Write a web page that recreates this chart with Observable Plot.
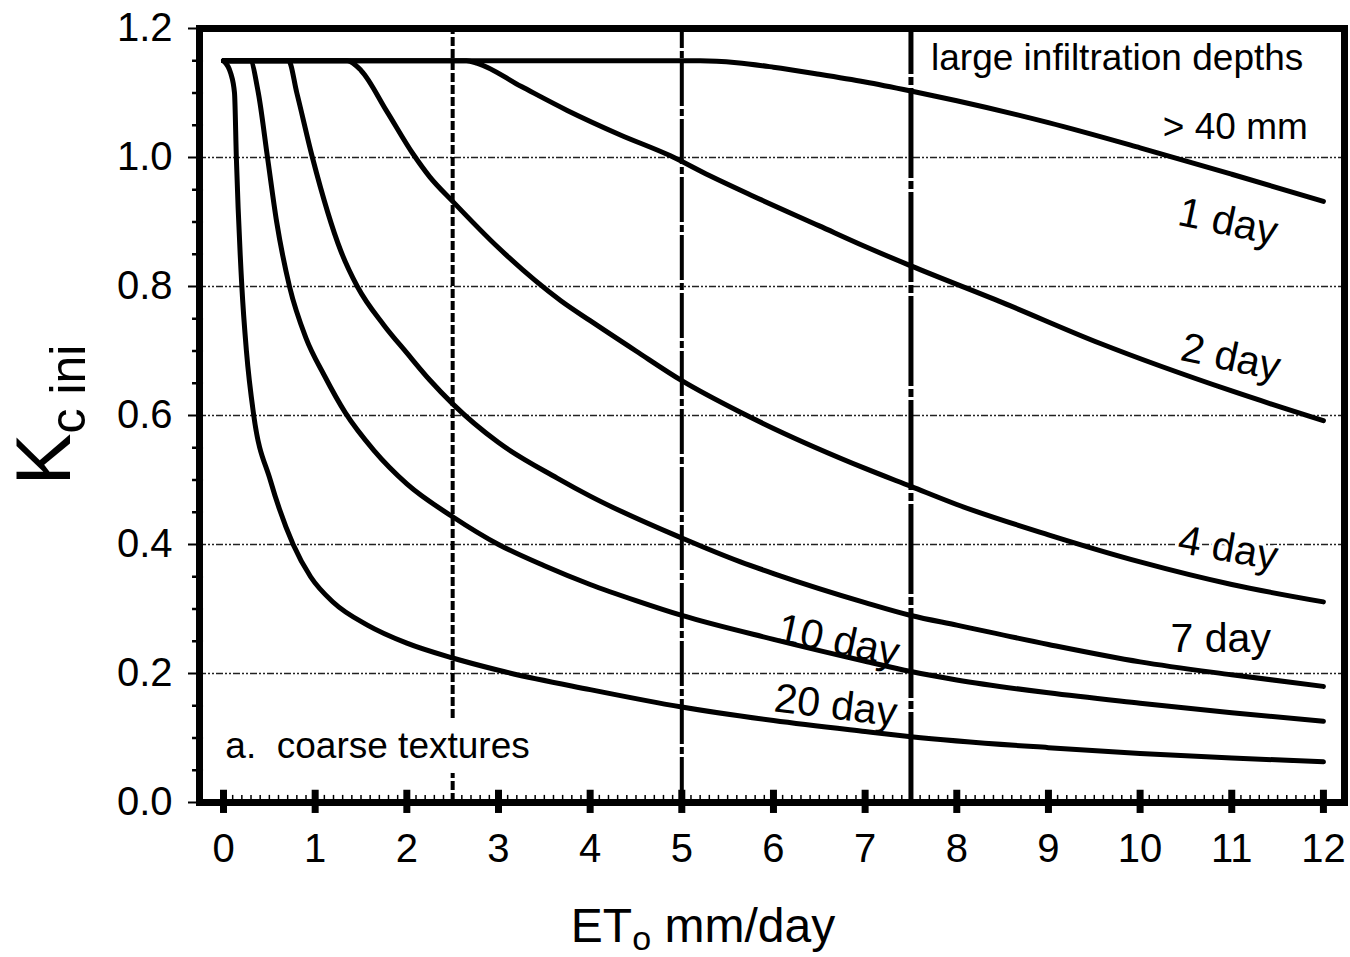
<!DOCTYPE html>
<html>
<head>
<meta charset="utf-8">
<script src="https://cdn.jsdelivr.net/npm/d3@7"></script>
<script src="https://cdn.jsdelivr.net/npm/@observablehq/plot@0.6"></script>
<style>
  html, body { margin: 0; padding: 0; background: #fff; }
  #chart svg { display: block; }
</style>
</head>
<body>
<div id="chart"></div>
<script>
// ---- Data ----
const xTicks = [0, 1, 2, 3, 4, 5, 6, 7, 8, 9, 10, 11, 12];
const yTicks = [0, 0.2, 0.4, 0.6, 0.8, 1.0, 1.2];
const gridY = [0.2, 0.4, 0.6, 0.8, 1.0];

const et1 = [0, 5.2, 5.6, 6.0, 6.5, 7.0, 7.5, 8.0, 9.0, 10.0, 11.0, 12.0];
const kc1 = [1.15, 1.15, 1.147, 1.14, 1.129, 1.117, 1.103, 1.088, 1.054, 1.015, 0.974, 0.932];

const et2 = [0, 2.65, 2.77, 3.25, 3.75, 4.33, 4.87, 5.3, 5.78, 6.5, 7.0, 7.5, 8.5, 9.56, 11.0, 12.0];
const kc2 = [1.15, 1.15, 1.146, 1.11, 1.073, 1.035, 1.003, 0.972, 0.94, 0.894, 0.862, 0.832, 0.775, 0.712, 0.638, 0.592];

const et4 = [0, 1.35, 1.5, 1.78, 2.07, 2.25, 2.5, 3.0, 3.68, 4.0, 4.5, 5.0, 5.64, 6.0, 7.0, 7.5, 8.0, 9.0, 10.0, 11.0, 12.0];
const kc4 = [1.15, 1.15, 1.135, 1.072, 1.005, 0.97, 0.932, 0.86, 0.778, 0.747, 0.70, 0.654, 0.605, 0.58, 0.518, 0.49, 0.462, 0.415, 0.373, 0.338, 0.311];

const et7 = [0, 0.71, 0.8, 0.97, 1.28, 1.46, 1.75, 2.0, 2.25, 2.5, 3.0, 3.64, 4.0, 5.0, 5.64, 6.0, 7.0, 7.5, 8.0, 9.0, 10.0, 11.0, 12.0];
const kc7 = [1.15, 1.15, 1.10, 1.0, 0.855, 0.8, 0.74, 0.697, 0.655, 0.618, 0.558, 0.503, 0.475, 0.41, 0.373, 0.355, 0.31, 0.29, 0.275, 0.245, 0.218, 0.198, 0.18];

const et10 = [0, 0.29, 0.38, 0.48, 0.58, 0.72, 0.9, 1.1, 1.33, 1.64, 2.0, 2.5, 3.0, 3.5, 4.0, 4.5, 5.0, 6.0, 7.0, 7.5, 8.0, 9.0, 10.0, 11.0, 12.0];
const kc10 = [1.15, 1.15, 1.10, 1.0, 0.9, 0.8, 0.72, 0.662, 0.604, 0.546, 0.494, 0.443, 0.40, 0.367, 0.338, 0.313, 0.29, 0.253, 0.219, 0.203, 0.19, 0.17, 0.154, 0.139, 0.126];

const et20 = [0, 0.08, 0.12, 0.14, 0.2, 0.25, 0.33, 0.51, 0.76, 0.95, 1.2, 1.57, 2.0, 2.5, 3.0, 4.0, 5.0, 6.0, 7.0, 7.5, 9.0, 10.0, 11.0, 12.0];
const kc20 = [1.15, 1.13, 1.10, 1.0, 0.8, 0.7, 0.6, 0.5, 0.4, 0.35, 0.31, 0.275, 0.247, 0.224, 0.205, 0.175, 0.148, 0.127, 0.11, 0.102, 0.085, 0.076, 0.069, 0.063];

const seriesNames = ["1 day", "2 day", "4 day", "7 day", "10 day", "20 day"];
const seriesEt = [et1, et2, et4, et7, et10, et20];
const seriesKc = [kc1, kc2, kc4, kc7, kc10, kc20];

// curve labels
const labelText = ["1 day", "2 day", "4 day", "7 day", "10 day", "20 day"];
const labelEt   = [10.96, 10.99, 10.96, 10.88, 6.71, 6.68];
const labelKc   = [0.90, 0.69, 0.394, 0.254, 0.251, 0.150];
const labelRot  = [12, 12, 10, 0, 12, 7];

// ---- build tables ----
const lines = [];
seriesNames.forEach((name, i) => {
  seriesEt[i].forEach((e, j) => lines.push({series: name, et: e, kc: seriesKc[i][j]}));
});
const labels = labelText.map((t, i) => ({text: t, et: labelEt[i], kc: labelKc[i], rot: labelRot[i]}));

const minorX = d3.range(1, 121).map(d => d / 10).filter(d => Math.abs(d - Math.round(d)) > 1e-6);
const minorY = d3.range(1, 24).map(d => d * 0.05).filter(d => Math.abs(d * 5 - Math.round(d * 5)) > 1e-6);

const FONT = "'Liberation Sans', Arial, Helvetica, sans-serif";

const chart = Plot.plot({
  width: 1350,
  height: 957,
  marginLeft: 199,
  marginRight: 6,
  marginTop: 28,
  marginBottom: 155,
  style: {fontFamily: FONT, fontSize: "40px", color: "#000", background: "#fff", overflow: "visible"},
  x: {domain: [-0.262, 12.23], ticks: xTicks, tickSize: 0, tickPadding: 31, tickFormat: d => String(d), label: null},
  y: {domain: [0, 1.2], ticks: yTicks, tickSize: 0, tickPadding: 27, tickFormat: d3.format(".1f"), label: null},
  marks: [
    // dash-dot horizontal grid
    Plot.ruleY(gridY, {stroke: "#222", strokeWidth: 1.3, strokeDasharray: "7,2,2,2,2,2"}),
    // vertical reference lines
    Plot.ruleX([2.5], {y1: 0, y2: 1.2, stroke: "#000", strokeWidth: 4, strokeDasharray: "9,3"}),
    Plot.ruleX([5], {y1: 0, y2: 1.2, stroke: "#000", strokeWidth: 4, strokeDasharray: "45,3,7,3"}),
    Plot.ruleX([7.5], {y1: 0, y2: 1.2, stroke: "#000", strokeWidth: 5, strokeDasharray: "90,3,8,3"}),
    // curves
    Plot.line(lines, {x: "et", y: "kc", z: "series", stroke: "#000", strokeWidth: 5, curve: "monotone-x"}),
    // curve labels
    Plot.text(labels.filter(d => d.text !== "10 day" && d.text !== "20 day"), {x: "et", y: "kc", text: "text", rotate: "rot", fontSize: 41, fill: "#000", stroke: "#fff", strokeWidth: 6, paintOrder: "stroke"}),
    Plot.text(labels.filter(d => d.text === "10 day" || d.text === "20 day"), {x: "et", y: "kc", text: "text", rotate: "rot", fontSize: 41, fill: "#000"}),
    // annotations
    Plot.text(["large infiltration depths"], {x: 9.75, y: 1.1535, text: d => d, fontSize: 37, fill: "#000"}),
    Plot.text(["> 40 mm"], {x: 11.83, y: 1.0465, text: d => d, fontSize: 37, fill: "#000", textAnchor: "end"}),
    Plot.text(["a.\u00a0 coarse textures"], {x: 0.02, y: 0.088, text: d => d, fontSize: 37, fill: "#000", textAnchor: "start", stroke: "#fff", strokeWidth: 30, paintOrder: "stroke"}),
    // frame
    Plot.frame({stroke: "#000", strokeWidth: 7}),
    // minor ticks
    Plot.ruleX(minorX, {y1: 0, y2: 0.011, stroke: "#000", strokeWidth: 1.5}),
    Plot.ruleY(minorY, {x1: -0.338, x2: -0.218, stroke: "#000", strokeWidth: 2.5}),
    // major ticks
    Plot.ruleX(xTicks, {y1: -0.017, y2: 0.019, stroke: "#000", strokeWidth: 7}),
    Plot.ruleY(yTicks, {x1: -0.382, x2: -0.262, stroke: "#000", strokeWidth: 2})
  ]
});

document.getElementById("chart").appendChild(chart);

// axis titles (with subscripts)
const svg = d3.select(chart);
const xt = svg.append("text")
  .attr("x", 703).attr("y", 942)
  .attr("text-anchor", "middle")
  .attr("font-family", FONT).attr("font-size", 48).attr("fill", "#000");
xt.append("tspan").text("ET");
xt.append("tspan").attr("font-size", 34).attr("dy", 8).text("o");
xt.append("tspan").attr("dy", -8).text(" mm/day");

const yt = svg.append("text")
  .attr("transform", "translate(70,415) rotate(-90)")
  .attr("text-anchor", "middle")
  .attr("font-family", FONT).attr("font-size", 78).attr("fill", "#000");
yt.append("tspan").text("K");
yt.append("tspan").attr("font-size", 50).attr("dy", 15).text("c ini");
</script>
</body>
</html>
